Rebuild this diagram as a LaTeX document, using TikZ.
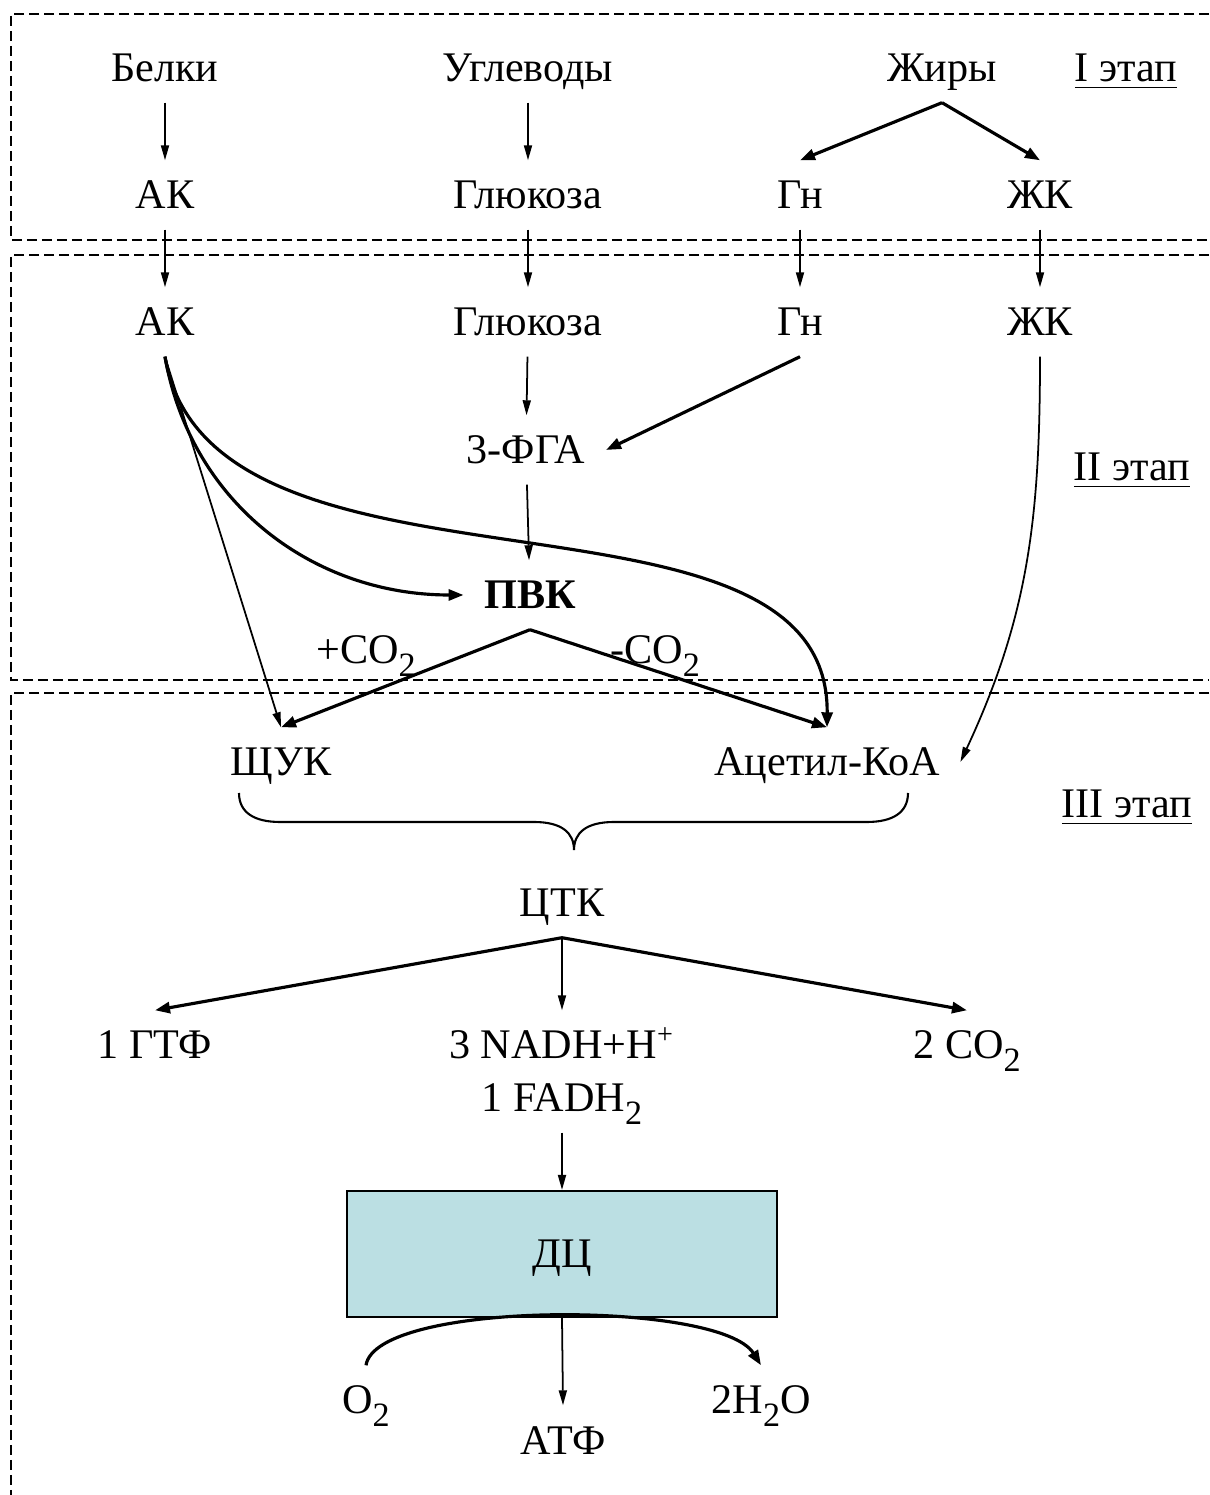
\documentclass[tikz,border=0pt]{standalone}
\usepackage{fontspec}
\setmainfont{Liberation Serif}
\usepackage{tikz}
\usetikzlibrary{arrows.meta,positioning,calc}
\usepackage{xcolor}
\definecolor{dcfill}{RGB}{187,223,227}
\newcommand{\lowsub}[1]{\raisebox{-3.6pt}{\fontsize{9.7}{10}\selectfont #1}}

\begin{document}
\begin{tikzpicture}[
    lbl/.style={font=\fontsize{12}{14}\selectfont, text height=0.28cm, text depth=0cm, inner ysep=0.2cm, inner xsep=0.2cm},
    arr/.style={line width=0.5pt, -{Triangle[length=1.5mm, width=0.8mm]}},
    arrb/.style={line width=0.9pt, -{Triangle[length=1.5mm, width=1.1mm]}},
    zone/.style={line width=0.5pt, dash pattern=on 1mm off 0.5mm},
    dcbox/.style={lbl, draw, line width=0.6pt, fill=dcfill, minimum width=4.3cm, minimum height=1.26cm}
]
\useasboundingbox (0,0) rectangle (12.09,14.95);

% этапы
\draw[zone] (12.09,14.81) -| (0.11,12.55) -- (12.09,12.55);
\draw[zone] (12.09,12.40) -| (0.11,8.15) -- (12.09,8.15);
\draw[zone] (12.09,8.02) -| (0.11,0);

\node[lbl] (et1) at (11.26,14.27) {\underline{I этап}};
\node[lbl] (et2) at (11.32,10.28) {\underline{II этап}};
\node[lbl] (et3) at (11.27,6.91) {\underline{III этап}};

% I этап
\node[lbl] (bel)  at (1.65,14.27) {Белки};
\node[lbl] (ugl)  at (5.28,14.27) {Углеводы};
\node[lbl] (zhir) at (9.42,14.27) {Жиры};
\node[lbl] (ak1)  at (1.65,13.00) {АК};
\node[lbl] (glu1) at (5.28,13.00) {Глюкоза};
\node[lbl] (gn1)  at (8.00,13.00) {Гн};
\node[lbl] (zhk1) at (10.40,13.00) {ЖК};

\draw[arr] (bel) -- (ak1);
\draw[arr] (ugl) -- (glu1);
\draw[arrb] (zhir.south) -- (gn1.north);
\draw[arrb] (zhir.south) -- (zhk1.north);

% II этап
\node[lbl] (ak2)  at (1.65,11.73) {АК};
\node[lbl] (glu2) at (5.28,11.73) {Глюкоза};
\node[lbl] (gn2)  at (8.00,11.73) {Гн};
\node[lbl] (zhk2) at (10.40,11.73) {ЖК};
\node[lbl] (fga)  at (5.26,10.45) {3-ФГА};
\node[lbl] (pvk)  at (5.30,9.00) {\textbf{ПВК}};
\node[lbl] at (3.66,8.45) {+CO\lowsub{2}};
\node[lbl] at (6.55,8.45) {-CO\lowsub{2}};

\draw[arr] (ak1) -- (ak2);
\draw[arr] (glu1) -- (glu2);
\draw[arr] (gn1) -- (gn2);
\draw[arr] (zhk1) -- (zhk2);
\draw[arr] (glu2) -- (fga);
\draw[arrb] (gn2.south) -- (fga.east);
\draw[arr] (fga) -- (pvk);

% III этап
\node[lbl] (shuk) at (2.81,7.33) {ЩУК};
\node[lbl] (acoa) at (8.27,7.33) {Ацетил-КоА};

\draw[arr] (ak2.south) -- (shuk.north);
\draw[arrb] (ak2.south) to[out=-80, in=180] (pvk.west);
\draw[arrb] (ak2.south) .. controls (2.10,8.70) and (8.30,10.35) .. (acoa.north);
\draw[arrb] (pvk.south) -- (shuk.north);
\draw[arrb] (pvk.south) -- (acoa.north);
\draw[arr] (zhk2.south) to[out=-90, in=65] (acoa.east);

% скобка
\draw[line width=0.6pt] (2.39,7.02) .. controls (2.39,6.82) and (2.55,6.73) .. (2.80,6.73)
    -- (5.34,6.73) .. controls (5.62,6.73) and (5.74,6.62) .. (5.74,6.45)
    .. controls (5.74,6.62) and (5.86,6.73) .. (6.14,6.73)
    -- (8.67,6.73) .. controls (8.92,6.73) and (9.08,6.82) .. (9.08,7.02);

\node[lbl] (ctk)  at (5.62,5.92) {ЦТК};
\node[lbl] (gtf)  at (1.55,4.50) {1 ГТФ};
\node[lbl] (nadh) at (5.62,4.50) {3 NADH+H\textsuperscript{+}};
\node[lbl] (fadh) at (5.62,3.97) {1 FADH\lowsub{2}};
\node[lbl] (co2)  at (9.67,4.50) {2 CO\lowsub{2}};

\draw[arrb] (ctk.south) -- (gtf.north);
\draw[arr] (ctk.south) -- (nadh.north);
\draw[arrb] (ctk.south) -- (co2.north);

% ДЦ
\node[dcbox] (dc) at (5.62,2.41) {ДЦ};
\node[lbl] (o2)  at (3.66,0.95) {O\lowsub{2}};
\node[lbl] (h2o) at (7.61,0.95) {2H\lowsub{2}O};
\node[lbl] (atf) at (5.63,0.55) {АТФ};

\draw[arr] (fadh.south) -- (dc.north);
\draw[arr] (dc.south) -- (atf.north);
\draw[arrb] (o2.north) .. controls (3.76,1.95) and (7.20,1.95) .. (h2o.north);

\end{tikzpicture}
\end{document}
